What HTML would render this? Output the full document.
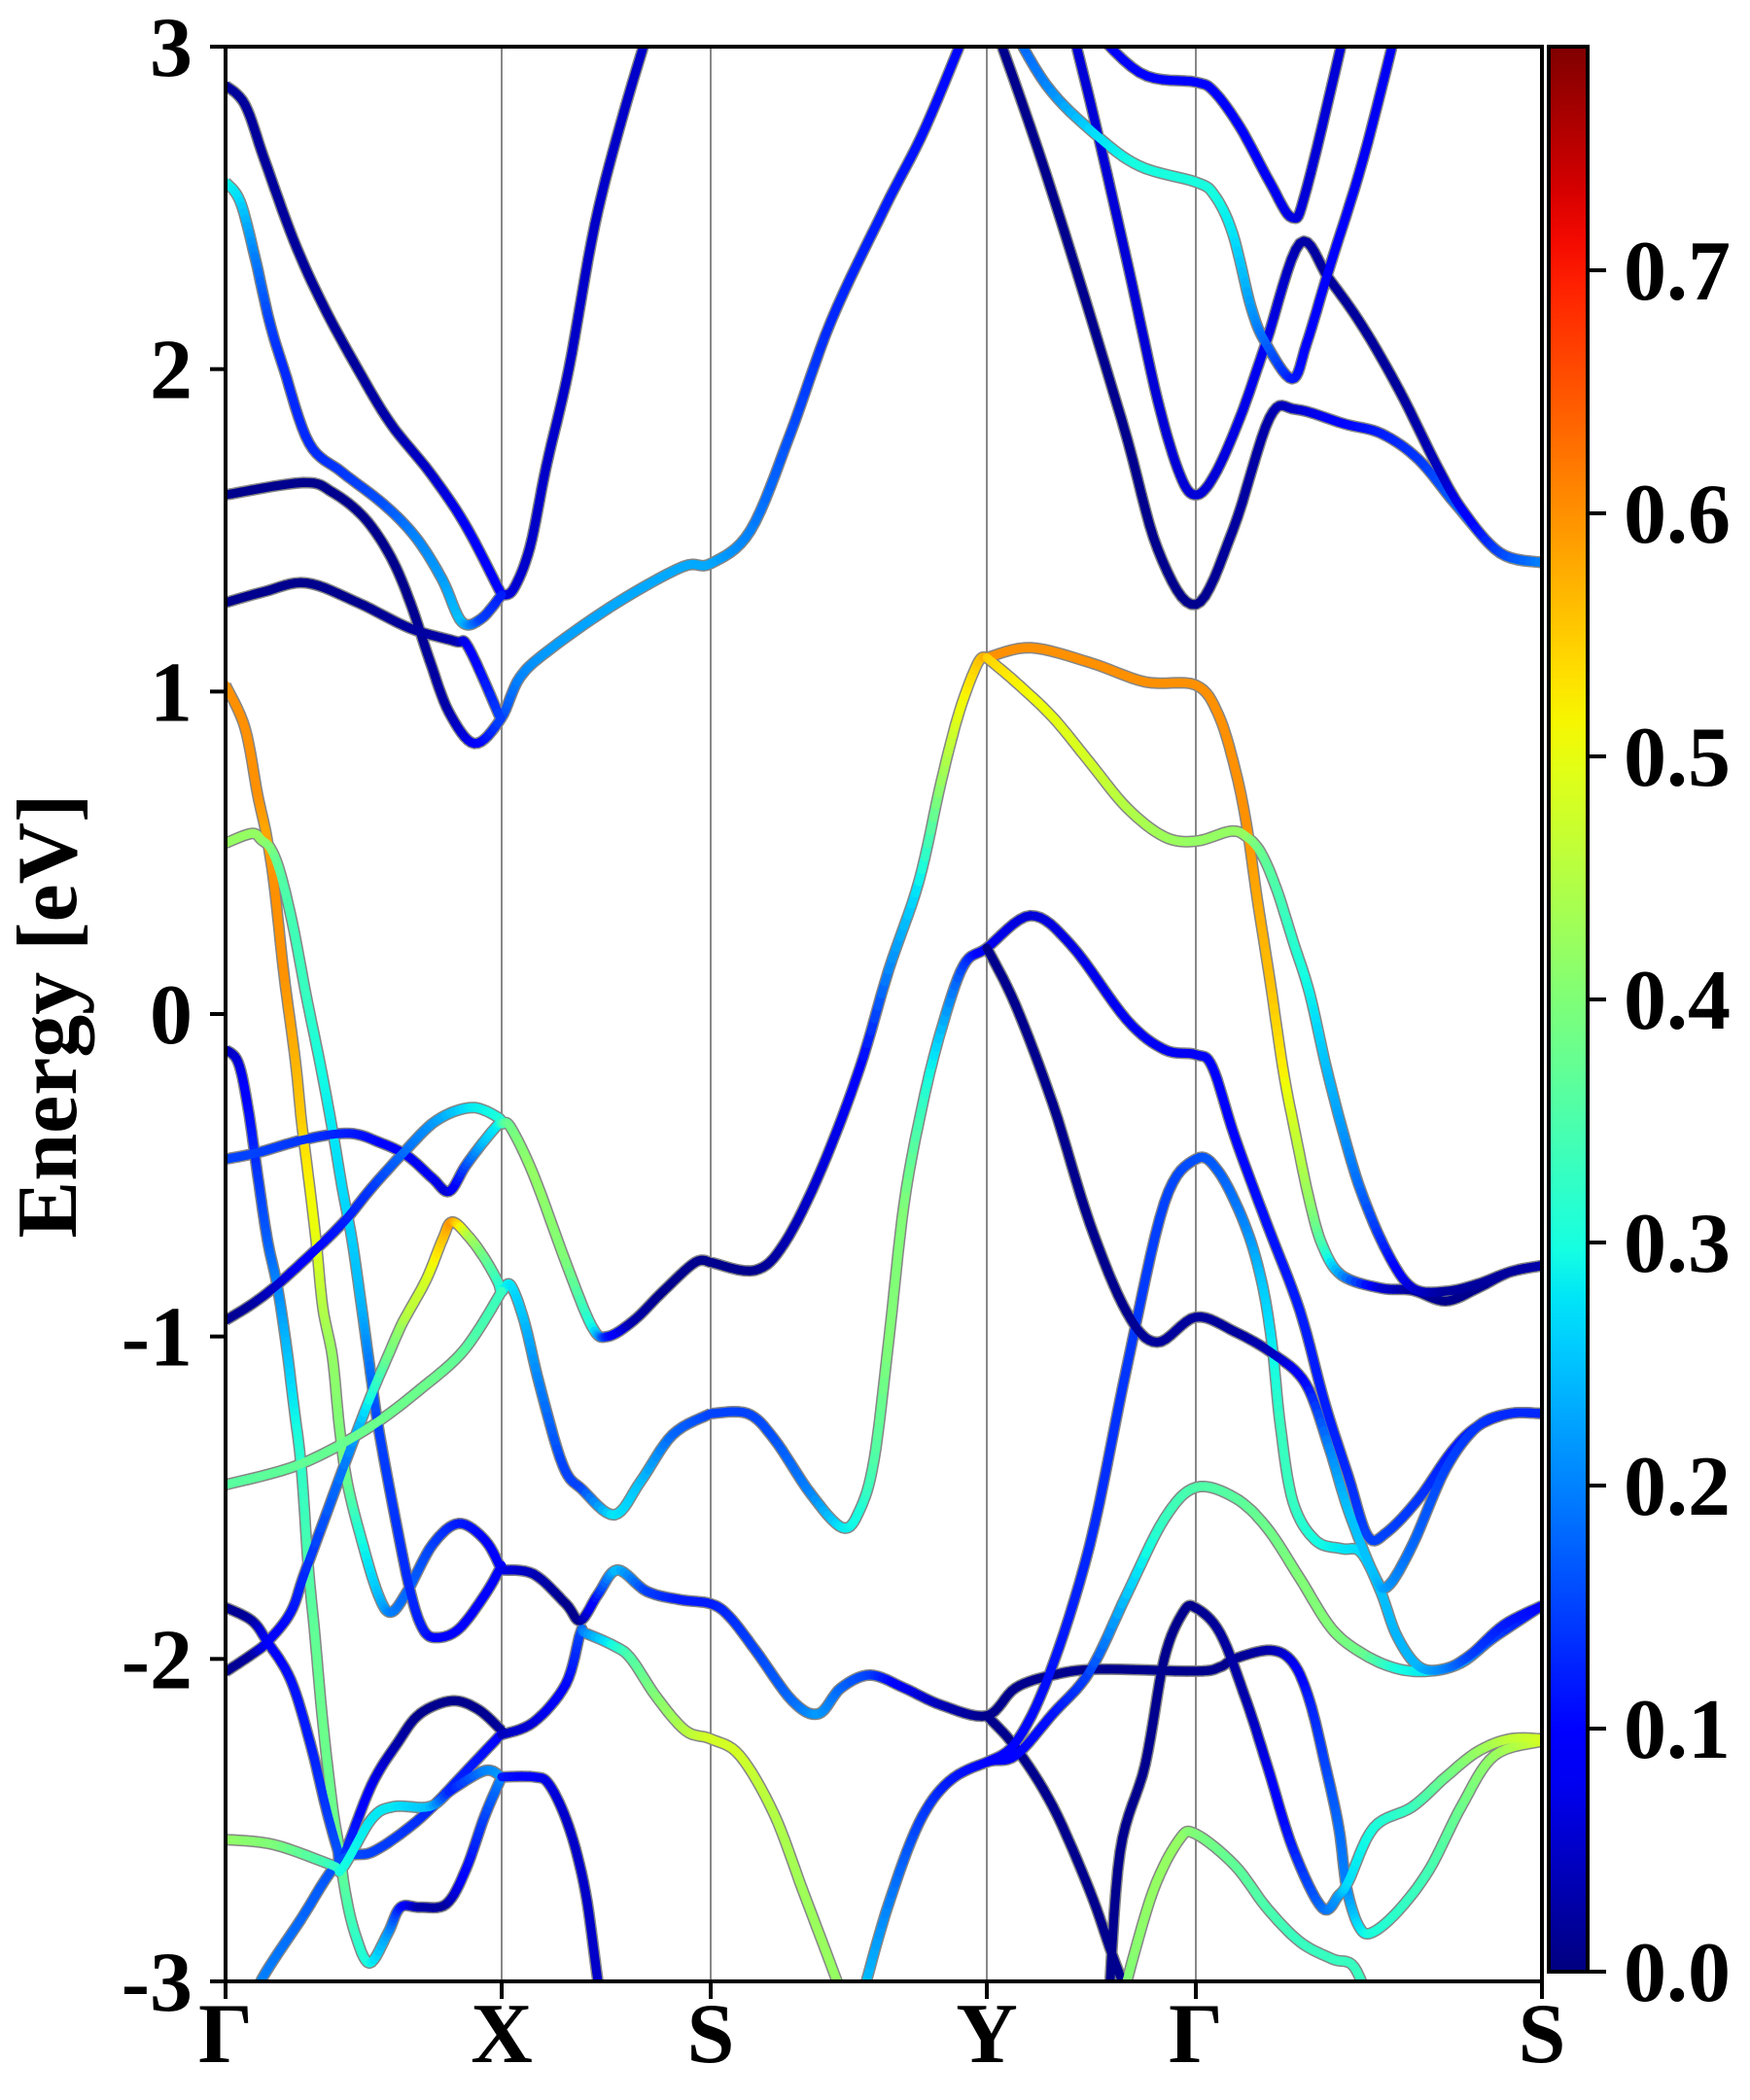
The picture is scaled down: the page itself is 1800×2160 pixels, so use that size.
<!DOCTYPE html>
<html><head><meta charset="utf-8"><title>Band structure</title>
<style>
html,body{margin:0;padding:0;background:#fff;}
svg{display:block;}
text{font-family:"Liberation Serif","DejaVu Serif",serif;font-weight:bold;fill:#000;}
</style></head>
<body>
<svg id="chart" width="1800" height="2160" viewBox="0 0 1800 2160" xmlns="http://www.w3.org/2000/svg">
<defs>
<clipPath id="plotClip"><rect x="232" y="48" width="1354" height="1990"/></clipPath>
<linearGradient id="jetGrad" x1="0" y1="1" x2="0" y2="0"></linearGradient>
</defs>
<rect x="0" y="0" width="1800" height="2160" fill="#fff"/>
<g id="grid"></g>
<g id="bandsGray" clip-path="url(#plotClip)"></g>
<g id="bands" clip-path="url(#plotClip)"></g>
<rect x="232" y="48" width="1354" height="1990" fill="none" stroke="#000" stroke-width="4"/>
<g id="axes"></g>
<text x="0" y="0" font-size="88" text-anchor="middle" transform="translate(78,1045) rotate(-90)">Energy [eV]</text>
<rect x="1593" y="48" width="40" height="1980" fill="url(#jetGrad)" stroke="#000" stroke-width="4"/>
<g id="cbar"></g>
</svg>
<script>
const NS = "http://www.w3.org/2000/svg";
const kNodes = [0, 284, 499, 783, 998, 1354];
const kLabels = ["Γ", "X", "S", "Y", "Γ", "S"];
const yTicks = [3, 2, 1, 0, -1, -2, -3];
const cbTicks = [0.0, 0.1, 0.2, 0.3, 0.4, 0.5, 0.6, 0.7];
const cbTickLabels = ["0.0", "0.1", "0.2", "0.3", "0.4", "0.5", "0.6", "0.7"];
const vMax = 0.792;

const bandK = [
[0,20,40,70,100,136,170,210,246,284],
[284,296,313,330,353,380,410,440],
[0,15,30,45,60,86,120,163,196,223,243,263,284],
[0,80,110,143,170,190,210,230,256,283,303,336,403,470,499,540,581,623,678,720,768],
[0,40,83,136,190,236,250,283],
[787,844.5,921,959,998,1036,1074,1101,1151,1189,1227,1265.5,1311,1354],
[867,894,929,959,982,998,1017,1043.5,1070,1105,1135,1170,1208,1246,1273,1311,1354],
[802,844.5,894,940,998,1017,1036,1055,1070,1097,1112,1135,1170,1208],
[879,940,998,1017,1043.5,1074,1097,1112,1155],
[0,20,33,42,50,60,72,78,85,93,100,110,117,125,140,157,170,187,213,240,267,284],
[0,27,37,47,57,70,83,97,110,120,130,140,147,157,173,190,203,217,240,267,284],
[0,13,23,33,43,53,62,70,78,85,92,100,110,117,123,133,148,167,180,200,227,247,267,284],
[0,33,80,127,160,187,213,230,247,267,284],
[0,27,53,93,123,150,183,217,253,280,284,293,317,350,377,393,420,450,483,499],
[499,544.5,575,613,652,682,713,736,755,774,783],
[783,828,889,946,998,1021,1038,1050,1061,1075,1088,1101,1115,1128,1148,1188,1221,1255,1288,1321,1354],
[783,812.5,851,889,927,965.5,998,1034,1050,1065,1081,1098,1115,1131,1148,1168,1195,1221,1255,1288,1321,1354],
[499,537,564,602,634.5,652,667,682,698,717,736,759,783,828,870,927,965.5,998,1015,1038,1071,1105,1131,1155,1175,1195,1228,1261,1288,1321,1354],
[0,27,43,67,83,127,150,167,180,187,207,223,233,250,267,280,284,293,307,323,347,367,400,427,460,499],
[0,77,150,210,240,260,284],
[0,27,43,67,87,103,115,120,150,177,200,233,260,284],
[30,37,77,117,150,183,213,250,283],
[0,50,110,120,150,173,210,233,267,284],
[284,317,350,365,370,400,417,443,473,499,529,564,594,629,640],
[284,317,350,365,383,403,433,467,499,518,545,583,610,633,663,698,736,783,812.5,851,897,998,1023,1038,1075,1098,1115,1131,1145,1153,1165,1178,1205,1238,1271,1305,1354],
[783,812.5,851,889,912,935],
[650,659,682,713,744,783,812.5,851,889,927,965.5,998,1038,1071,1105,1138,1171,1205,1238,1271,1305,1354],
[783,812.5,847,889,927,965.5,998,1021,1048,1065,1076,1085,1098,1121,1148,1168,1188,1205,1228,1255,1281,1315,1354],
[783,812.5,851,889,927,958,998,1038,1078,1111,1135,1155,1181,1195,1221,1255,1288,1321,1354],
[908,920,946,965.5,985,998,1023,1050,1071,1098,1128,1145,1155,1181,1221,1255,1288,1321,1354],
[920,927,954,981,998,1038,1071,1105,1138,1161,1180],
[284,317,333,353,370,383,390]
];
const bandE = [
[2.88,2.82,2.65,2.4,2.2,2.0,1.83,1.68,1.52,1.30],
[1.30,1.317,1.447,1.7,2.0,2.45,2.8,3.1],
[2.58,2.52,2.35,2.15,2.0,1.77,1.68,1.58,1.477,1.347,1.216,1.226,1.30],
[1.61,1.648,1.618,1.538,1.417,1.276,1.096,0.935,0.839,0.915,1.045,1.136,1.276,1.387,1.397,1.5,1.8,2.15,2.5,2.75,3.1],
[1.276,1.31,1.337,1.276,1.196,1.156,1.136,0.915],
[3.1,2.6,1.85,1.44,1.27,1.5,1.85,1.875,1.83,1.8,1.72,1.58,1.43,1.40],
[3.1,2.77,2.31,1.9,1.67,1.61,1.67,1.85,2.08,2.39,2.28,2.13,1.93,1.70,1.56,1.43,1.40],
[3.1,2.88,2.73,2.63,2.58,2.54,2.42,2.19,2.08,1.97,2.08,2.31,2.65,3.1],
[3.1,2.92,2.89,2.86,2.75,2.58,2.47,2.56,3.1],
[1.02,0.887,0.68,0.555,0.40,0.125,-0.15,-0.33,-0.50,-0.70,-0.91,-1.065,-1.278,-1.45,-1.632,-1.80,-1.855,-1.79,-1.645,-1.58,-1.632,-1.724],
[0.53,0.56,0.54,0.51,0.43,0.264,0.056,-0.15,-0.36,-0.54,-0.70,-0.91,-1.065,-1.278,-1.54,-1.79,-1.907,-1.934,-1.907,-1.80,-1.71],
[-0.11,-0.15,-0.29,-0.50,-0.70,-0.84,-1.016,-1.21,-1.41,-1.71,-1.93,-2.196,-2.458,-2.589,-2.72,-2.85,-2.943,-2.85,-2.77,-2.77,-2.76,-2.654,-2.484,-2.366],
[-0.45,-0.43,-0.39,-0.37,-0.40,-0.44,-0.51,-0.55,-0.47,-0.39,-0.33],
[-0.95,-0.90,-0.84,-0.73,-0.64,-0.54,-0.43,-0.33,-0.29,-0.32,-0.34,-0.35,-0.50,-0.77,-0.97,-1.0,-0.95,-0.86,-0.77,-0.77],
[-0.77,-0.795,-0.71,-0.48,-0.17,0.136,0.41,0.72,0.94,1.09,1.105],
[1.105,1.136,1.09,1.03,1.02,0.93,0.765,0.59,0.36,0.09,-0.177,-0.38,-0.58,-0.716,-0.81,-0.85,-0.857,-0.89,-0.85,-0.80,-0.78],
[1.105,1.03,0.92,0.78,0.64,0.55,0.536,0.567,0.55,0.50,0.388,0.226,0.065,-0.15,-0.35,-0.55,-0.74,-0.85,-0.86,-0.837,-0.80,-0.78],
[-1.239,-1.239,-1.317,-1.488,-1.593,-1.54,-1.383,-1.016,-0.587,-0.28,-0.05,0.15,0.205,0.305,0.213,-0.018,-0.11,-0.126,-0.164,-0.38,-0.65,-0.92,-1.21,-1.435,-1.62,-1.606,-1.5,-1.357,-1.278,-1.239,-1.239],
[-2.04,-1.986,-1.947,-1.855,-1.72,-1.36,-1.18,-1.06,-0.97,-0.93,-0.82,-0.70,-0.645,-0.69,-0.76,-0.83,-0.86,-0.84,-0.95,-1.15,-1.40,-1.475,-1.553,-1.449,-1.304,-1.239],
[-1.46,-1.396,-1.278,-1.14,-1.06,-0.98,-0.86],
[-1.84,-1.881,-1.947,-2.065,-2.26,-2.458,-2.589,-2.62,-2.392,-2.26,-2.17,-2.13,-2.157,-2.222],
[-3.08,-2.995,-2.81,-2.628,-2.60,-2.536,-2.458,-2.34,-2.235],
[-2.56,-2.576,-2.64,-2.65,-2.497,-2.458,-2.458,-2.405,-2.346,-2.366],
[-2.235,-2.196,-2.078,-1.92,-1.92,-1.96,-1.999,-2.117,-2.222,-2.248,-2.30,-2.48,-2.72,-3.0,-3.1],
[-1.724,-1.737,-1.829,-1.881,-1.80,-1.724,-1.79,-1.816,-1.829,-1.868,-1.973,-2.13,-2.17,-2.09,-2.05,-2.09,-2.143,-2.176,-2.09,-2.05,-2.032,-2.038,-2.025,-1.999,-1.973,-2.012,-2.13,-2.327,-2.523,-2.707,-2.825,-2.85,-2.785,-2.654,-2.458,-2.3,-2.255],
[-2.176,-2.274,-2.458,-2.72,-2.917,-3.1],
[-3.1,-3.0,-2.76,-2.51,-2.38,-2.32,-2.30,-2.17,-2.038,-1.80,-1.566,-1.468,-1.50,-1.593,-1.75,-1.907,-1.986,-2.03,-2.038,-2.012,-1.933,-1.835],
[-2.32,-2.26,-2.05,-1.645,-1.095,-0.587,-0.45,-0.487,-0.65,-0.82,-1.016,-1.278,-1.514,-1.632,-1.658,-1.67,-1.79,-1.93,-2.025,-2.03,-1.986,-1.894,-1.835],
[0.205,0.028,-0.28,-0.65,-0.925,-1.018,-0.94,-0.985,-1.055,-1.147,-1.344,-1.54,-1.737,-1.776,-1.645,-1.41,-1.278,-1.239,-1.239],
[-3.1,-2.6,-2.327,-1.999,-1.855,-1.842,-1.92,-2.13,-2.327,-2.589,-2.772,-2.733,-2.69,-2.523,-2.458,-2.366,-2.287,-2.248,-2.248],
[-3.1,-3.0,-2.72,-2.56,-2.543,-2.64,-2.772,-2.877,-2.93,-2.956,-3.1],
[-2.366,-2.366,-2.39,-2.52,-2.72,-3.0,-3.12]
];
const bandW = [
[.02,.02,.02,.02,.02,.02,.03,.05,.08,.1],
[.08,.06,.05,.05,.05,.05,.05,.05],
[.3,.27,.2,.15,.13,.13,.14,.16,.2,.22,.25,.15,.12],
[.01,.01,.01,.01,.01,.01,.02,.03,.08,.15,.2,.22,.23,.23,.23,.2,.16,.13,.12,.11,.1],
[.01,.01,.01,.01,.02,.03,.08,.15],
[.01,.01,.01,.01,.01,.02,.03,.05,.1,.12,.14,.17,.2,.22],
[.06,.06,.06,.06,.06,.06,.06,.07,.08,.03,.02,.02,.02,.04,.08,.15,.2],
[.16,.2,.27,.3,.3,.3,.28,.22,.18,.12,.1,.09,.08,.08],
[.1,.1,.1,.1,.09,.08,.07,.06,.06],
[.6,.6,.6,.58,.6,.6,.57,.55,.52,.5,.45,.42,.4,.38,.3,.25,.2,.18,.15,.12,.1,.08],
[.42,.42,.42,.4,.36,.34,.33,.3,.28,.27,.26,.24,.2,.15,.14,.13,.12,.1,.1,.1,.1],
[.03,.06,.1,.14,.17,.2,.24,.28,.32,.35,.37,.38,.38,.38,.36,.33,.3,.22,.12,.03,.02,.1,.15,.2],
[.15,.15,.14,.12,.1,.08,.08,.06,.15,.25,.3],
[.01,.02,.05,.1,.12,.14,.18,.22,.28,.3,.32,.38,.42,.4,.3,.12,.03,.01,.01,.01],
[.01,.01,.03,.06,.09,.2,.28,.42,.5,.55,.58],
[.6,.6,.6,.6,.6,.6,.6,.6,.58,.56,.52,.47,.42,.35,.22,.06,.02,.01,.01,.02,.03],
[.55,.52,.5,.48,.45,.43,.42,.42,.42,.38,.35,.32,.29,.25,.22,.18,.12,.06,.02,.02,.02,.03],
[.15,.15,.16,.2,.28,.3,.35,.4,.4,.33,.25,.15,.08,.06,.07,.08,.08,.08,.09,.1,.11,.12,.12,.13,.15,.15,.14,.12,.12,.12,.12],
[.01,.02,.08,.11,.13,.2,.3,.38,.42,.45,.48,.55,.6,.45,.38,.33,.3,.28,.25,.2,.15,.15,.28,.25,.18,.15],
[.36,.37,.38,.38,.37,.35,.33],
[.01,.02,.08,.11,.12,.14,.16,.15,.08,.03,.01,.01,.01,.02],
[.2,.2,.18,.16,.15,.14,.13,.12,.1],
[.42,.4,.33,.3,.28,.28,.25,.12,.2,.22],
[.04,.06,.1,.15,.2,.3,.35,.4,.45,.48,.48,.45,.43,.42,.42],
[.08,.04,.01,.01,.12,.25,.15,.12,.12,.13,.15,.18,.22,.18,.15,.08,.04,.01,.01,.01,.01,.01,.01,.01,.03,.07,.12,.15,.18,.2,.27,.3,.32,.34,.38,.42,.48],
[.01,.01,.01,.01,.01,.01],
[.25,.25,.2,.15,.12,.1,.1,.11,.15,.25,.33,.35,.36,.38,.4,.4,.38,.3,.28,.22,.15,.1],
[.1,.1,.11,.13,.14,.15,.16,.17,.2,.25,.28,.33,.33,.3,.28,.27,.25,.24,.24,.2,.15,.12,.1],
[.01,.01,.01,.01,.01,.02,.02,.02,.04,.1,.2,.25,.25,.22,.18,.15,.14,.13,.13],
[.01,.01,.01,.01,.01,.01,.02,.03,.07,.12,.18,.22,.27,.3,.33,.38,.42,.46,.48],
[.4,.4,.42,.42,.4,.37,.35,.33,.33,.33,.33],
[.12,.09,.07,.05,.05,.05,.05]
];

function xOf(k){ return 232 + k * (1354 / 1354); }
function yOf(E){ return 48 + (3 - E) * 1990 / 6; }
function cbY(v){ return 2028 - v * 2500; }

function interp(x, xs, ys){
  if (x <= xs[0]) return ys[0];
  for (let i = 1; i < xs.length; i++){
    if (x <= xs[i]) return ys[i-1] + (ys[i]-ys[i-1]) * (x - xs[i-1]) / (xs[i]-xs[i-1]);
  }
  return ys[ys.length-1];
}
function jet(t){
  t = Math.max(0, Math.min(1, t));
  const r = interp(t, [0,0.35,0.66,0.89,1], [0,0,1,1,0.5]);
  const g = interp(t, [0,0.125,0.375,0.64,0.91,1], [0,0,1,1,0,0]);
  const b = interp(t, [0,0.11,0.34,0.65,1], [0.5,1,1,0,0]);
  return "rgb(" + Math.round(r*255) + "," + Math.round(g*255) + "," + Math.round(b*255) + ")";
}

const grad = document.getElementById("jetGrad");
for (let i = 0; i <= 40; i++){
  const st = document.createElementNS(NS, "stop");
  st.setAttribute("offset", (i/40).toFixed(3));
  st.setAttribute("stop-color", jet(i/40));
  grad.appendChild(st);
}

const grid = document.getElementById("grid");
for (let i = 1; i < kNodes.length - 1; i++){
  const l = document.createElementNS(NS, "line");
  
  
  l.setAttribute("x1", xOf(kNodes[i])); l.setAttribute("x2", xOf(kNodes[i]));
  l.setAttribute("y1", 48); l.setAttribute("y2", 2038);
  l.setAttribute("stroke", "#888"); l.setAttribute("stroke-width", "2");
  grid.appendChild(l);
}

const gGray = document.getElementById("bandsGray");
const gBands = document.getElementById("bands");
function catmull(p0, p1, p2, p3, t){
  const t2 = t*t, t3 = t2*t;
  return 0.5 * ((2*p1) + (-p0 + p2)*t + (2*p0 - 5*p1 + 4*p2 - p3)*t2 + (-p0 + 3*p1 - 3*p2 + p3)*t3);
}
const SUB = 8;
for (let b = 0; b < bandK.length; b++){
  const ks = bandK[b], es = bandE[b], ws = bandW[b];
  const px = ks.map(xOf), py = es.map(yOf);
  const n = px.length;
  const samples = [];
  for (let i = 0; i < n - 1; i++){
    const i0 = Math.max(0, i-1), i3 = Math.min(n-1, i+2);
    for (let s = 0; s < SUB; s++){
      const t = s / SUB;
      samples.push([catmull(px[i0],px[i],px[i+1],px[i3],t), catmull(py[i0],py[i],py[i+1],py[i3],t), ws[i] + (ws[i+1]-ws[i])*t]);
    }
  }
  samples.push([px[n-1], py[n-1], ws[n-1]]);
  const d = "M" + samples.map(s => s[0].toFixed(1) + "," + s[1].toFixed(1)).join(" L");
  const outline = document.createElementNS(NS, "path");
  
  
  outline.setAttribute("d", d);
  outline.setAttribute("fill", "none");
  outline.setAttribute("stroke", "#858585");
  outline.setAttribute("stroke-width", "12");
  outline.setAttribute("stroke-linejoin", "round");
  gGray.appendChild(outline);
  const bandGroup = document.createElementNS(NS, "g");
  
  
  for (let j = 0; j < samples.length - 1; j++){
    const a = samples[j], c = samples[j+1];
    const seg = document.createElementNS(NS, "line");
    
    
    seg.setAttribute("x1", a[0].toFixed(1)); seg.setAttribute("y1", a[1].toFixed(1));
    seg.setAttribute("x2", c[0].toFixed(1)); seg.setAttribute("y2", c[1].toFixed(1));
    seg.setAttribute("stroke", jet(((a[2]+c[2])/2) / vMax));
    seg.setAttribute("stroke-width", "9");
    seg.setAttribute("stroke-linecap", "round");
    bandGroup.appendChild(seg);
  }
  gBands.appendChild(bandGroup);
}

const axes = document.getElementById("axes");
for (let i = 0; i < yTicks.length; i++){
  const y = yOf(yTicks[i]);
  const t = document.createElementNS(NS, "line");
  
  
  t.setAttribute("x1", 216); t.setAttribute("x2", 232);
  t.setAttribute("y1", y); t.setAttribute("y2", y);
  t.setAttribute("stroke", "#000"); t.setAttribute("stroke-width", "4");
  axes.appendChild(t);
  const lb = document.createElementNS(NS, "text");
  
  
  lb.setAttribute("x", 198); lb.setAttribute("y", y + 30);
  lb.setAttribute("font-size", "88"); lb.setAttribute("text-anchor", "end");
  lb.textContent = String(yTicks[i]);
  axes.appendChild(lb);
}
for (let i = 0; i < kNodes.length; i++){
  const x = xOf(kNodes[i]);
  const t = document.createElementNS(NS, "line");
  
  
  t.setAttribute("x1", x); t.setAttribute("x2", x);
  t.setAttribute("y1", 2038); t.setAttribute("y2", 2056);
  t.setAttribute("stroke", "#000"); t.setAttribute("stroke-width", "4");
  axes.appendChild(t);
  const lb = document.createElementNS(NS, "text");
  
  
  lb.setAttribute("x", x); lb.setAttribute("y", 2121);
  lb.setAttribute("font-size", "88"); lb.setAttribute("text-anchor", "middle");
  lb.textContent = kLabels[i];
  axes.appendChild(lb);
}

const cbar = document.getElementById("cbar");
for (let i = 0; i < cbTicks.length; i++){
  const y = cbY(cbTicks[i]);
  const t = document.createElementNS(NS, "line");
  
  
  t.setAttribute("x1", 1633); t.setAttribute("x2", 1652);
  t.setAttribute("y1", y); t.setAttribute("y2", y);
  t.setAttribute("stroke", "#000"); t.setAttribute("stroke-width", "4");
  cbar.appendChild(t);
  const lb = document.createElementNS(NS, "text");
  
  
  lb.setAttribute("x", 1670); lb.setAttribute("y", y + 30);
  lb.setAttribute("font-size", "88");
  lb.textContent = cbTickLabels[i];
  cbar.appendChild(lb);
}
</script>
</body></html>
